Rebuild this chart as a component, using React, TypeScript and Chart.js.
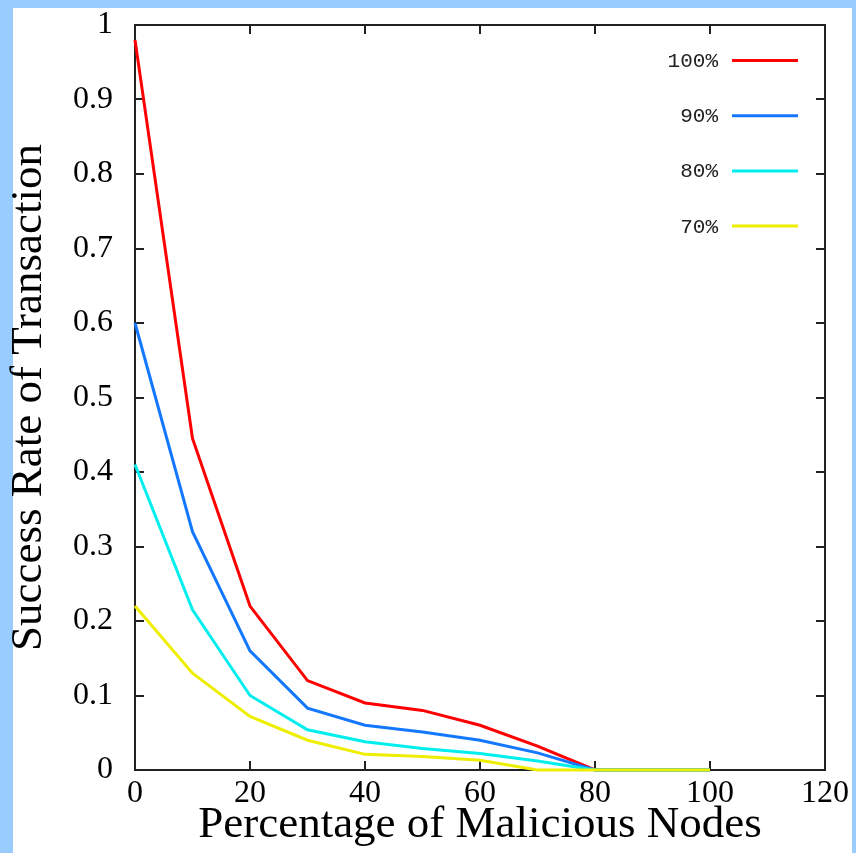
import React, { useEffect, useRef } from 'react';
import { Chart, registerables } from 'chart.js';

Chart.register(...registerables);

const xValues = [0, 10, 20, 30, 40, 50, 60, 70, 80, 90, 100];
const series100 = [0.98, 0.445, 0.22, 0.12, 0.09, 0.08, 0.06, 0.032, 0, 0, 0];
const series90 = [0.6, 0.32, 0.16, 0.083, 0.06, 0.051, 0.04, 0.023, 0, 0, 0];
const series80 = [0.41, 0.215, 0.1, 0.054, 0.038, 0.029, 0.022, 0.012, 0, 0, 0];
const series70 = [0.22, 0.13, 0.072, 0.04, 0.021, 0.018, 0.013, 0, 0, 0, 0];
const seriesLabels = ['100%', '90%', '80%', '70%'];
const seriesColors = ['#ff0000', '#1478ff', '#00eeee', '#eeee00'];
const xTickLabels = ['0', '20', '40', '60', '80', '100', '120'];
const yTickLabels = ['0', '0.1', '0.2', '0.3', '0.4', '0.5', '0.6', '0.7', '0.8', '0.9', '1'];

const framePlugin = {
  id: 'gnuFrame',
  beforeDatasetsDraw(chart: any) {
    const { ctx, chartArea, scales } = chart;
    const { left, right, top, bottom } = chartArea;
    ctx.save();
    ctx.strokeStyle = '#222';
    ctx.lineWidth = 2;
    ctx.strokeRect(left, top, right - left, bottom - top);
    const tl = 9;
    ctx.beginPath();
    scales.x.ticks.forEach((t: any) => {
      const px = Math.round(scales.x.getPixelForValue(t.value));
      ctx.moveTo(px, bottom);
      ctx.lineTo(px, bottom - tl);
      ctx.moveTo(px, top);
      ctx.lineTo(px, top + tl);
    });
    scales.y.ticks.forEach((t: any) => {
      const py = Math.round(scales.y.getPixelForValue(t.value));
      ctx.moveTo(left, py);
      ctx.lineTo(left + tl, py);
      ctx.moveTo(right, py);
      ctx.lineTo(right - tl, py);
    });
    ctx.stroke();
    ctx.restore();
  },
  afterDraw(chart: any) {
    const { ctx } = chart;
    ctx.save();
    ctx.font = '21px "Liberation Mono", monospace';
    ctx.textAlign = 'right';
    ctx.textBaseline = 'middle';
    ctx.fillStyle = '#222';
    seriesLabels.forEach((label, i) => {
      const y = 60.5 + i * 55.2;
      ctx.fillText(label, 718, y + 1);
      ctx.strokeStyle = seriesColors[i];
      ctx.lineWidth = 3;
      ctx.beginPath();
      ctx.moveTo(732, y);
      ctx.lineTo(798, y);
      ctx.stroke();
    });
    ctx.restore();
  },
};

export default function App() {
  const canvasRef = useRef<HTMLCanvasElement | null>(null);

  useEffect(() => {
    if (!canvasRef.current) return;
    const seriesData = [series100, series90, series80, series70];
    const chart = new Chart(canvasRef.current, {
      type: 'line',
      data: {
        labels: xValues,
        datasets: seriesData.map((s, i) => ({
          label: seriesLabels[i],
          data: s.map((v, j) => ({ x: xValues[j], y: v })),
          borderColor: seriesColors[i],
          backgroundColor: seriesColors[i],
          borderWidth: 3,
          pointRadius: 0,
          tension: 0,
          fill: false,
          clip: false as any,
          order: 3 - i,
        })),
      },
      options: {
        animation: false,
        responsive: false,
        devicePixelRatio: 1,
        layout: { padding: { left: 0, top: 25, right: 31, bottom: 0 } },
        plugins: {
          legend: { display: false },
          tooltip: { enabled: false },
        },
        scales: {
          x: {
            type: 'linear',
            min: 0,
            max: 120,
            ticks: {
              stepSize: 20,
              color: '#000',
              padding: 4,
              maxRotation: 0,
              font: { family: '"Liberation Serif", serif', size: 32 },
              callback: (_v: any, i: number) => xTickLabels[i],
            },
            grid: { display: false, drawTicks: false },
            border: { display: false },
            title: {
              display: true,
              text: 'Percentage of Malicious Nodes',
              color: '#000',
              font: { family: '"Liberation Serif", serif', size: 45 },
              padding: { top: 0, bottom: 1 },
            },
            afterFit: (scale: any) => {
              scale.height = 83;
            },
          },
          y: {
            type: 'linear',
            min: 0,
            max: 1,
            ticks: {
              stepSize: 0.1,
              color: '#000',
              padding: 22,
              font: { family: '"Liberation Serif", serif', size: 32 },
              callback: (_v: any, i: number) => yTickLabels[i],
            },
            grid: { display: false, drawTicks: false },
            border: { display: false },
            title: {
              display: true,
              text: 'Success Rate of Transaction',
              color: '#000',
              font: { family: '"Liberation Serif", serif', size: 45 },
              padding: { top: 2, bottom: 0 },
            },
            afterFit: (scale: any) => {
              scale.width = 135;
              scale.paddingTop = 0;
              scale.paddingBottom = 0;
            },
          },
        },
      },
      plugins: [framePlugin],
    });
    return () => chart.destroy();
  }, []);

  return (
    <div style={{ position: 'fixed', left: 0, top: 0, width: 856, height: 853, background: '#99ccff', overflow: 'hidden' }}>
      <div style={{ position: 'absolute', left: 13, top: 8, width: 839, height: 845, background: '#ffffff' }} />
      <canvas ref={canvasRef} width={856} height={853} style={{ position: 'absolute', left: 0, top: 0, width: 856, height: 853 }} />
    </div>
  );
}
